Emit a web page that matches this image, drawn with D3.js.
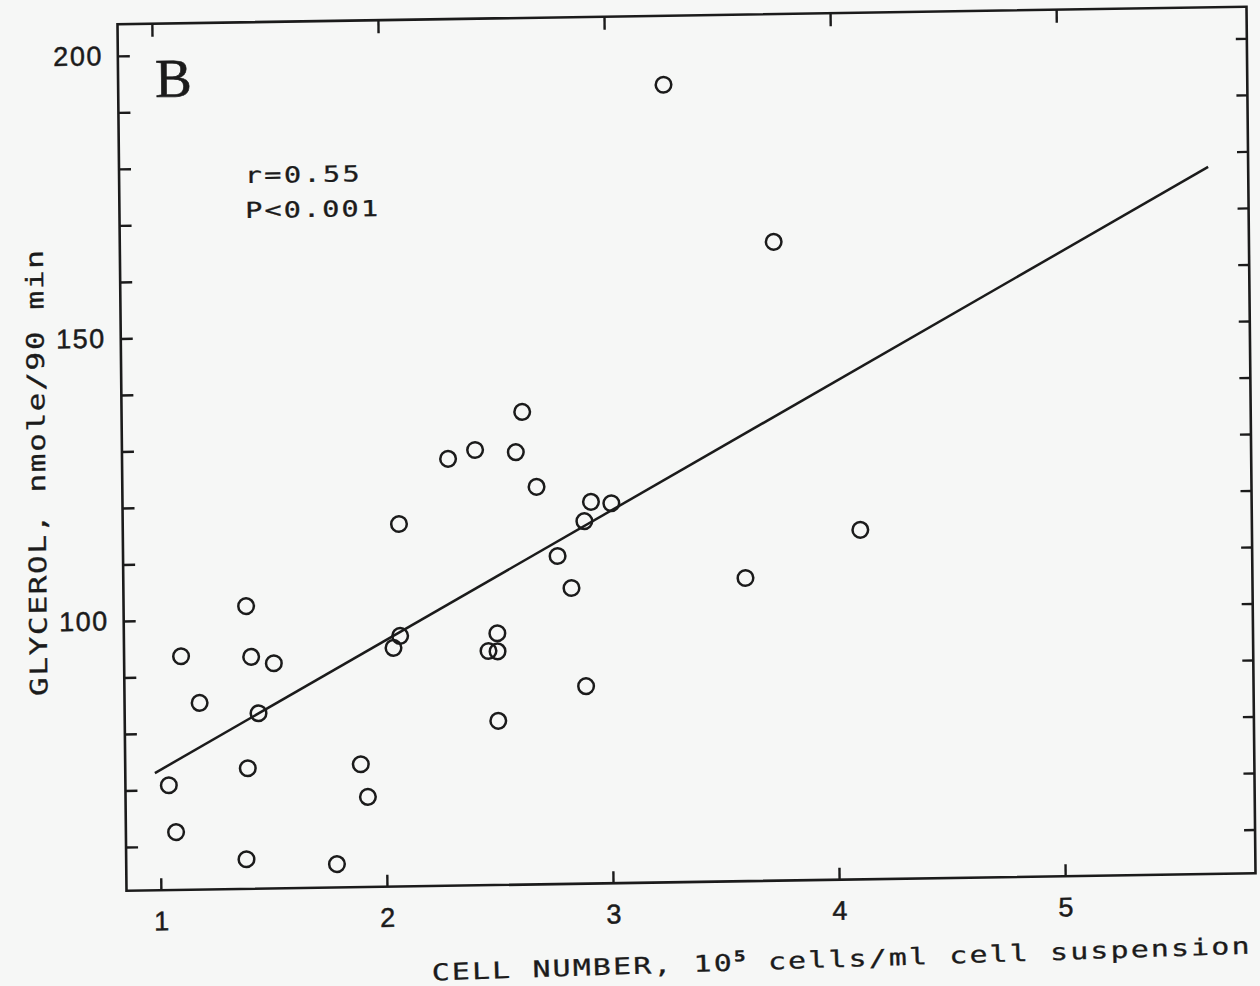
<!DOCTYPE html>
<html>
<head>
<meta charset="utf-8">
<script src="https://cdn.jsdelivr.net/npm/d3@7"></script>
<style>
  html, body { margin: 0; padding: 0; background: #f6f7f6; }
  svg { display: block; }
</style>
</head>
<body>
<svg id="chart" width="1260" height="986"></svg>
<script>
// Glycerol release against cell number in the suspension (panel B)
const cellNumber = [3.26, 3.74, 2.62, 2.29, 2.41, 2.59, 2.68, 2.07, 2.92, 3.01,
                    2.89, 2.77, 2.83, 3.60, 4.11, 1.39, 2.07, 2.04, 2.50, 2.46,
                    2.50, 1.10, 1.41, 1.51, 2.89, 1.18, 1.44, 2.50, 1.04, 1.39,
                    1.89, 1.92, 1.07, 1.38, 1.78];
const glycerol = [193.4, 165.3, 135.9, 127.8, 129.3, 128.8, 122.6, 116.4, 119.8, 119.5,
                  116.4, 110.3, 104.6, 105.9, 114.1, 102.3, 96.6, 94.5, 96.8, 93.7,
                  93.6, 93.6, 93.3, 92.1, 87.2, 85.3, 83.3, 81.3, 70.8, 73.6,
                  74.0, 68.2, 62.5, 57.5, 56.4];

// Least-squares line drawn across the data
const fitIntercept = 51.2;
const fitSlope = 22.27;
const fitRange = [0.979, 5.665];

// Axis ticks
const xTicks = [1, 2, 3, 4, 5];
const yTicks = [60, 70, 80, 90, 100, 110, 120, 130, 140, 150, 160, 170, 180, 190, 200];
const yLabelled = [100, 150, 200];

const stats = ["r=0.55", "P<0.001"];
const panelLetter = "B";
const xTitle = ["CELL NUMBER, 10", "5", " cells/ml cell suspension"];
const yTitle = "GLYCEROL, nmole/90 min";

const ink = "#1b1b1b";
const plot = { left: 122, right: 1251, top: 15.5, bottom: 882 };

const svg = d3.select("#chart");
// the printed figure sits slightly askew on the page
const g = svg.append("g").attr("transform", "matrix(1,-0.0155,0.0104,1,-4.667,10.64)");

const x = d3.scaleLinear().domain([0.848, 5.842]).range([plot.left, plot.right]);
const y = d3.scaleLinear().domain([52.26, 205.6]).range([plot.bottom, plot.top]);

function styleAxis(sel) {
  sel.select(".domain").remove();
  sel.selectAll(".tick line").attr("stroke", ink).attr("stroke-width", 2.4);
  sel.selectAll(".tick text").attr("fill", ink).attr("stroke", ink).attr("stroke-width", 0.5);
}

// bottom axis with labels
g.append("g").attr("transform", `translate(0,${plot.bottom})`)
  .call(d3.axisBottom(x).tickValues(xTicks).tickSizeInner(-12).tickSizeOuter(0)
        .tickPadding(21).tickFormat(d3.format("d")))
  .call(styleAxis)
  .call(s => s.selectAll(".tick text")
    .attr("font-family", "'Liberation Sans', Arial, sans-serif")
    .attr("font-size", 27));

// top axis, ticks only
g.append("g").attr("transform", `translate(0,${plot.top})`)
  .call(d3.axisTop(x).tickValues(xTicks).tickSizeInner(-13).tickSizeOuter(0).tickFormat(""))
  .call(styleAxis);

// left axis, labels every 50
g.append("g").attr("transform", `translate(${plot.left},0)`)
  .call(d3.axisLeft(y).tickValues(yTicks).tickSizeInner(-12).tickSizeOuter(0)
        .tickPadding(15).tickFormat(d => yLabelled.includes(d) ? d : ""))
  .call(styleAxis)
  .call(s => s.selectAll(".tick text")
    .attr("font-family", "'Liberation Sans', Arial, sans-serif")
    .attr("font-size", 27)
    .attr("letter-spacing", 1.5));

// right axis, ticks only
g.append("g").attr("transform", `translate(${plot.right},0)`)
  .call(d3.axisRight(y).tickValues(yTicks).tickSizeInner(-11).tickSizeOuter(0).tickFormat(""))
  .call(styleAxis);

// frame
g.append("rect")
  .attr("x", plot.left).attr("y", plot.top)
  .attr("width", plot.right - plot.left).attr("height", plot.bottom - plot.top)
  .attr("fill", "none").attr("stroke", ink).attr("stroke-width", 2.6);

// regression line
const line = d3.line().x(d => x(d)).y(d => y(fitIntercept + fitSlope * d));
g.append("path")
  .attr("d", line(fitRange))
  .attr("fill", "none").attr("stroke", ink).attr("stroke-width", 2.5);

// open circles
g.append("g").selectAll("circle")
  .data(cellNumber.map((c, i) => [c, glycerol[i]]))
  .join("circle")
  .attr("cx", d => x(d[0]))
  .attr("cy", d => y(d[1]))
  .attr("r", 7.8)
  .attr("fill", "none")
  .attr("stroke", ink)
  .attr("stroke-width", 2.5);

// plotter lettering: wide characters, spread so the line spans a given width
const plotter = "'DejaVu Sans Mono', 'Liberation Mono', monospace";
const stretch = 1.3;
function plotterText(parent, transform, size, width) {
  const t = parent.append("text")
    .attr("transform", transform + ` scale(${stretch},1)`)
    .attr("font-family", plotter)
    .attr("font-size", size)
    .attr("fill", ink)
    .attr("stroke", ink)
    .attr("stroke-width", 0.3);
  t.fit = () => {
    const node = t.node();
    const n = node.getNumberOfChars();
    const len = node.getComputedTextLength();
    t.attr("letter-spacing", (width / stretch - len) / (n - 1));
    return t;
  };
  return t;
}

// panel letter
g.append("text")
  .attr("x", 159).attr("y", 88.8)
  .attr("font-family", "'Liberation Serif', 'Times New Roman', serif")
  .attr("font-size", 55)
  .attr("fill", ink)
  .attr("stroke", ink)
  .attr("stroke-width", 0.6)
  .text(panelLetter);

// correlation statistics
const statWidths = [115, 133];
stats.forEach((s, i) => {
  plotterText(g, `translate(247.6,${176.2 + i * 35})`, 22, statWidths[i]).text(s).fit();
});

// x axis title
const xt = plotterText(g, "translate(426.4,976.5) rotate(-1.0)", 23, 818);
xt.append("tspan").text(xTitle[0]);
xt.append("tspan").attr("dy", -9).attr("font-size", 15).attr("font-weight", "bold").text(xTitle[1]);
xt.append("tspan").attr("dy", 9).text(xTitle[2]);
xt.fit();

// y axis title
plotterText(g, "translate(45,686) rotate(-90)", 24, 446).text(yTitle).fit();
</script>
</body>
</html>
